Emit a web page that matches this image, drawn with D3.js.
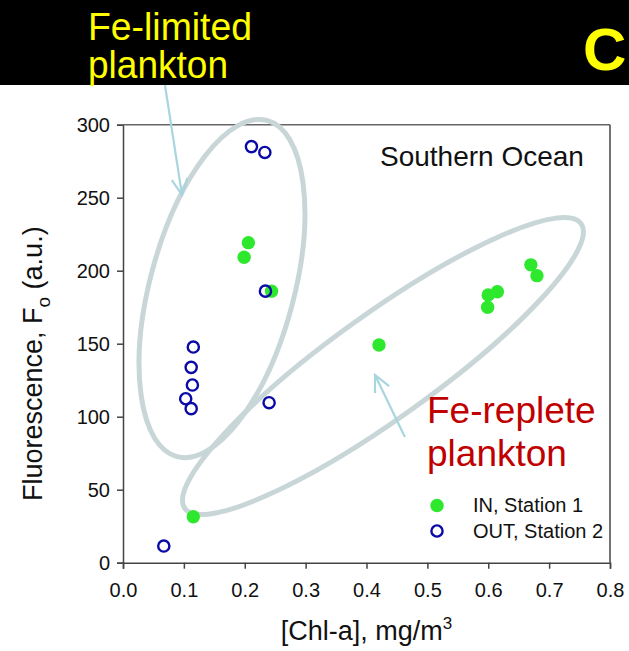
<!DOCTYPE html>
<html><head><meta charset="utf-8">
<script src="https://cdn.jsdelivr.net/npm/d3@7"></script>
<style>body{margin:0;background:#fff}svg{display:block}text{font-family:"Liberation Sans",Arial,sans-serif}</style>
</head><body>
<script>
// ---- data ----
const inX  = [0.206, 0.199, 0.244, 0.1155, 0.4205, 0.615, 0.600, 0.599, 0.670, 0.680];
const inY  = [219.2, 209.2, 186.0, 31.5, 149.1, 185.6, 183.4, 175.0, 204.0, 196.6];
const outX = [0.211, 0.233, 0.234, 0.1155, 0.112, 0.114, 0.103, 0.112, 0.240, 0.067];
const outY = [285.0, 281.0, 186.0, 147.7, 133.8, 121.7, 112.3, 105.5, 109.6, 11.4];
const xTicks = [0, 0.1, 0.2, 0.3, 0.4, 0.5, 0.6, 0.7, 0.8];
const yTicks = [0, 50, 100, 150, 200, 250, 300];
const seriesNames = ["IN, Station 1", "OUT, Station 2"];
// annotation anchors (data units)
const ellipseCenters = [[0.1626, 187.8], [0.427, 134.7]];
const arrows = [[[0.069, 327], [0.097, 251.8]], [[0.463, 86.1], [0.414, 128.6]]];

const W = 629, H = 651;
const svg = d3.select("body").append("svg").attr("width", W).attr("height", H);
const x = d3.scaleLinear().domain([0, 0.8]).range([123, 610]);
const y = d3.scaleLinear().domain([0, 300]).range([562.7, 124.7]);

// banner
svg.append("rect").attr("x", 0).attr("y", 0).attr("width", W).attr("height", 85).attr("fill", "#000");
svg.append("text").attr("x", 88).attr("y", 40).attr("font-size", 38).attr("fill", "#ffff00")
  .attr("textLength", 164).attr("lengthAdjust", "spacingAndGlyphs").text("Fe-limited");
svg.append("text").attr("x", 88).attr("y", 78).attr("font-size", 38).attr("fill", "#ffff00")
  .attr("textLength", 140).attr("lengthAdjust", "spacingAndGlyphs").text("plankton");
svg.append("text").attr("x", 583).attr("y", 70).attr("font-size", 60).attr("font-weight", "bold").attr("fill", "#ffff00").text("C");

// axes
const fmtX = d3.format(".1f");
const gx = svg.append("g").attr("transform", `translate(0,${y(0)})`)
  .call(d3.axisBottom(x).tickValues(xTicks).tickFormat(fmtX).tickSize(6).tickPadding(14));
const gy = svg.append("g").attr("transform", `translate(${x(0)},0)`)
  .call(d3.axisLeft(y).tickValues(yTicks).tickSize(6).tickPadding(7));
[gx, gy].forEach(g => {
  g.selectAll("path").attr("stroke", "#444").attr("stroke-width", 1.5);
  g.selectAll("line").attr("stroke", "#444").attr("stroke-width", 1.5);
  g.selectAll("text").attr("font-size", 20).attr("fill", "#111").attr("font-family", "Liberation Sans, Arial, sans-serif");
});
// frame top
svg.append("line").attr("x1", x(0)).attr("x2", x(0.8)).attr("y1", y(300)).attr("y2", y(300)).attr("stroke", "#666").attr("stroke-width", 1.5);

// ellipses
const ellStroke = "#c9d6d8";
svg.append("ellipse").attr("transform", `translate(${x(ellipseCenters[0][0])},${y(ellipseCenters[0][1])}) rotate(15)`)
  .attr("rx", 72).attr("ry", 174).attr("fill", "none").attr("stroke", ellStroke).attr("stroke-width", 5);
svg.append("ellipse").attr("transform", `translate(${x(ellipseCenters[1][0])},${y(ellipseCenters[1][1])}) rotate(-35.7)`)
  .attr("rx", 244).attr("ry", 52).attr("fill", "none").attr("stroke", ellStroke).attr("stroke-width", 5);

// arrows
const arrowColor = "#a9d6de";
arrows.forEach(([a, b]) => {
  const x1 = x(a[0]), y1 = y(a[1]), x2 = x(b[0]), y2 = y(b[1]);
  svg.append("line").attr("x1", x1).attr("y1", y1).attr("x2", x2).attr("y2", y2)
    .attr("stroke", arrowColor).attr("stroke-width", 2.2);
  const ang = Math.atan2(y2 - y1, x2 - x1), L = 18, s = Math.PI / 7;
  const p1 = [x2 - L * Math.cos(ang - s), y2 - L * Math.sin(ang - s)];
  const p2 = [x2 - L * Math.cos(ang + s), y2 - L * Math.sin(ang + s)];
  svg.append("path").attr("d", `M${p1}L${x2},${y2}L${p2}`).attr("fill", "none")
    .attr("stroke", arrowColor).attr("stroke-width", 2.2);
});

// points
const green = "#2ee82e", blue = "#0a0aa8";
const inData = inX.map((v, i) => ({x: v, y: inY[i]}));
const outData = outX.map((v, i) => ({x: v, y: outY[i]}));
svg.append("g").selectAll("circle").data(inData).join("circle")
  .attr("cx", d => x(d.x)).attr("cy", d => y(d.y)).attr("r", 6.7).attr("fill", green);
svg.append("g").selectAll("circle").data(outData).join("circle")
  .attr("cx", d => x(d.x)).attr("cy", d => y(d.y)).attr("r", 5.6).attr("fill", "none")
  .attr("stroke", blue).attr("stroke-width", 2.4);

// texts
svg.append("text").attr("x", 380).attr("y", 166).attr("font-size", 28).attr("fill", "#111").text("Southern Ocean");
svg.append("text").attr("x", 427).attr("y", 423).attr("font-size", 37).attr("fill", "#c00000").text("Fe-replete");
svg.append("text").attr("x", 427).attr("y", 466).attr("font-size", 37).attr("fill", "#c00000").text("plankton");

// legend
svg.append("circle").attr("cx", 437).attr("cy", 505.5).attr("r", 6.7).attr("fill", green);
svg.append("circle").attr("cx", 437).attr("cy", 531).attr("r", 5.6).attr("fill", "none").attr("stroke", blue).attr("stroke-width", 2.4);
svg.append("text").attr("x", 473).attr("y", 512).attr("font-size", 20).attr("fill", "#111").text(seriesNames[0]);
svg.append("text").attr("x", 473).attr("y", 538).attr("font-size", 20).attr("fill", "#111").text(seriesNames[1]);

svg.append("line").attr("x1", x(0.8)).attr("x2", x(0.8)).attr("y1", y(300)).attr("y2", y(0)).attr("stroke", "#444").attr("stroke-width", 1.5);

// axis titles
const xt = svg.append("text").attr("x", x(0.4)).attr("y", 640).attr("text-anchor", "middle").attr("font-size", 27).attr("fill", "#111");
xt.append("tspan").text("[Chl-a], mg/m");
xt.append("tspan").attr("font-size", 17).attr("dy", -11).text("3");
const yt = svg.append("text").attr("transform", `translate(42,${y(150) + 20}) rotate(-90)`).attr("text-anchor", "middle").attr("font-size", 27).attr("fill", "#111");
yt.append("tspan").text("Fluorescence, F");
yt.append("tspan").attr("font-size", 19).attr("dy", 8).text("o");
yt.append("tspan").attr("dy", -8).text(" (a.u.)");
</script>
</body></html>
